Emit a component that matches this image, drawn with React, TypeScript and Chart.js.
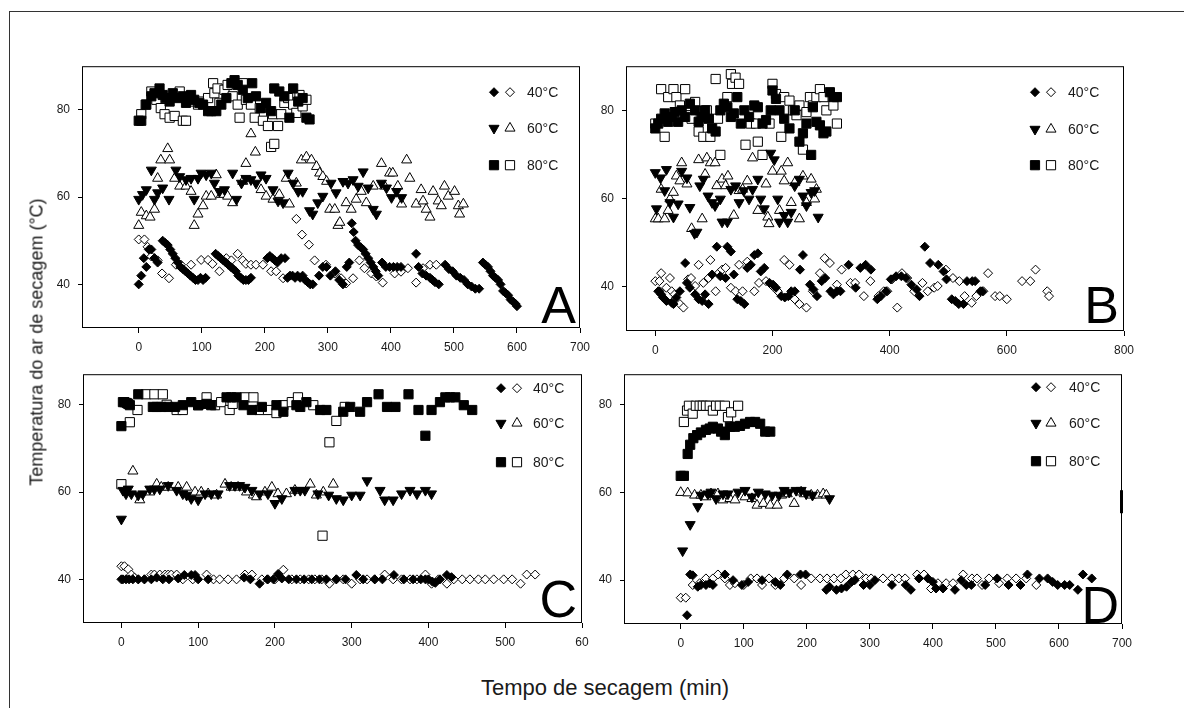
import React, { useEffect, useRef } from "react";
import { Chart, registerables } from "chart.js";

Chart.register(...registerables);

type Pts = [number, number][];

const FONT = "Arial, 'Liberation Sans', sans-serif";

// ---------------- Panel A ----------------
const a40Filled: Pts = [[0,40],[4,42],[8,46],[12,44],[16,48],[20,48],[25,46],[30,45],[38,50],[42,49.5],[46,49],[50,48],[54,47],[58,46],[62,45],[66,44],[70,43.5],[74,43],[78,42.5],[82,42],[86,41.5],[90,41],[94,41],[98,41.5],[102,41],[106,41.5],[122,47],[126,46.5],[130,46],[134,45.5],[138,45],[142,44.5],[146,44],[150,43.5],[154,43],[158,42],[162,41.5],[166,41],[170,41],[174,41],[178,41.5],[204,46],[208,46.5],[212,46],[216,45.5],[220,45],[226,46],[232,46],[236,41.5],[240,42],[244,42],[248,41.5],[252,42],[256,41.5],[260,42],[264,41],[268,40.5],[272,40],[276,40],[286,42],[292,44],[298,44],[304,42],[312,43],[318,41],[324,40],[330,44],[334,45],[338,54],[341,52],[344,50],[348,49],[352,48.5],[356,48],[360,47],[364,46],[368,45],[372,44],[376,43],[380,42],[386,45],[392,44],[398,44],[404,44],[410,44],[416,44],[440,47],[444,44],[450,42.5],[456,42],[462,41.5],[466,41],[470,40.5],[476,40],[486,44.5],[492,43.5],[498,43],[504,42],[510,41.5],[516,41],[522,40],[528,39.5],[534,39],[540,39],[546,45],[550,44.5],[554,44],[558,43],[562,42],[566,41.5],[570,41],[574,40],[578,38.5],[582,38],[586,37.5],[590,36.5],[594,36],[598,35.5],[600,35]];
const a40Open: Pts = [[0,50.3],[9,50.3],[14,48.6],[20,46.4],[25,46],[30,45.5],[37,42.5],[48,41.4],[59,44.5],[67,44.5],[83,44.5],[99,45.6],[110,45.6],[117,44.7],[128,43],[139,46],[147,45.5],[157,47],[165,45.5],[170,44.7],[178,44.5],[186,44.5],[197,44.5],[210,43],[218,43],[229,41.4],[250,55],[259,51.4],[270,49.1],[279,45.5],[297,44.5],[311,42.5],[321,41.4],[329,40.2],[340,41.4],[350,45.5],[358,43.7],[369,42.5],[377,41.8],[387,40.4],[406,42.5],[416,42.9],[427,43.7],[440,40.4],[451,43.7],[462,44.5],[472,44.5]];
const a60Filled: Pts = [[0,59.5],[6,60.6],[12,61.7],[20,66.2],[25,59.5],[30,61],[38,62.1],[48,59.5],[59,66.2],[65,64.7],[75,64],[83,64.3],[88,59.5],[94,64.3],[99,65.5],[107,65.1],[115,65.5],[120,63.2],[128,61.3],[136,61.7],[149,65.5],[155,59.5],[163,63.2],[170,64.3],[178,64],[186,63.2],[194,65.1],[202,64.3],[213,61.7],[221,59.1],[229,58.7],[237,65.5],[245,63.2],[253,61.3],[260,61.3],[271,56.9],[276,56.1],[284,58.7],[292,60.2],[305,63.2],[313,61],[324,63.6],[332,63.2],[340,64],[348,62.5],[356,65.8],[364,62.1],[372,57.2],[377,56.1],[385,63.2],[393,62.1],[401,59.9],[409,61.3],[417,59.9]];
const a60Open: Pts = [[0,53.5],[4,56.5],[12,55.7],[18,55.4],[25,57.2],[30,64.3],[35,68.5],[46,71.1],[49,68.5],[57,64.3],[65,62.5],[75,62.5],[83,61.3],[88,53.5],[94,56.1],[102,58],[107,60.2],[115,60.2],[123,65.1],[131,60.6],[141,60.2],[149,58.7],[165,63.6],[170,67.7],[178,74.5],[185,70.3],[194,61.7],[202,60.2],[213,59.5],[223,60.6],[234,64.3],[239,58.4],[250,63.2],[258,68.5],[266,69.2],[274,68.5],[282,67],[287,65.5],[292,64.7],[298,63.6],[303,57.2],[311,57.2],[316,53.5],[319,54.2],[329,58.7],[337,57.2],[345,59.5],[353,61.3],[361,58.7],[372,62.5],[385,67.7],[390,62.5],[398,65.5],[403,65.5],[411,62.5],[417,58.4],[425,68.5],[430,64.3],[440,58.4],[448,61.7],[451,59.1],[456,57.2],[462,55.4],[467,61.3],[475,59.1],[480,58],[485,62.5],[491,60.2],[501,61.3],[507,58],[509,56.1],[515,58.4]];
const a80Filled: Pts = [[0,77.5],[4,77.5],[12,81.2],[20,83.1],[25,83.8],[33,84.9],[38,83.4],[43,82.7],[49,81.9],[54,83.8],[62,82.7],[70,83.1],[75,81.6],[83,83.4],[88,82.3],[96,81.6],[102,81.2],[110,79.7],[115,79.7],[123,79.7],[131,81.2],[139,82.7],[147,86.1],[152,86.8],[157,85.7],[165,84.6],[173,82.7],[180,86.1],[186,83.1],[194,80.4],[202,81.6],[210,79.7],[215,84.9],[223,84.2],[231,83.1],[239,78.2],[245,84.9],[253,81.9],[260,82.7],[266,78.2],[271,77.8]];
const a80Open: Pts = [[4,79],[11,81.2],[20,84.2],[28,82.3],[35,80.4],[41,79],[49,78.2],[57,78.6],[65,84.2],[70,77.5],[75,77.5],[86,81.9],[94,81.2],[102,81.9],[110,82.7],[118,86.1],[120,83.8],[125,84.9],[128,81.6],[136,84.6],[141,85.7],[149,83.1],[157,81.2],[160,78.2],[165,86.1],[170,82.3],[178,81.2],[184,78.2],[192,80.4],[197,77.5],[205,76.3],[210,71.5],[215,72.2],[213,79],[221,76.3],[226,79],[231,81.6],[237,82.7],[245,81.2],[250,79.3],[255,83.4],[260,80.8],[266,82.3]];

// ---------------- Panel B ----------------
const b40Filled: Pts = [[5,39],[7,39],[10,38.3],[13,37.6],[19,36.8],[28,36.4],[31,36.1],[36,37.6],[42,39],[51,45.4],[54,40.9],[59,39.8],[68,38.3],[74,37.2],[80,36.8],[85,38.3],[91,36.1],[97,42.8],[105,49.1],[111,42.4],[120,42],[123,49.1],[129,48],[134,42.8],[140,37.2],[146,36.8],[152,36.1],[157,44.3],[163,45],[169,47.2],[175,47.6],[180,43.5],[186,44.3],[195,40.9],[201,40.5],[206,39.8],[215,37.9],[221,37.6],[227,37.9],[232,39],[238,39],[247,43.9],[252,47.2],[264,40.5],[270,39.4],[276,37.9],[284,41.3],[290,42],[299,39],[304,38.3],[310,39],[316,39],[330,45],[342,39.8],[350,44.3],[359,45],[368,43.9],[379,37.2],[385,37.9],[394,39],[402,41.7],[411,42.4],[420,42.4],[428,42],[437,40.5],[446,39.4],[451,37.9],[460,49.1],[469,45.4],[483,45],[492,43.5],[497,41.7],[506,37.2],[512,36.8],[518,36.1],[526,36.1],[532,41.3],[541,41.3],[546,41.3],[555,39],[558,39]];
const b40Open: Pts = [[0,41.3],[7,41.3],[10,43.1],[19,39.8],[25,42],[28,39],[33,38.3],[42,36.1],[48,35.3],[56,41.7],[61,42],[68,40.2],[74,45],[82,40.9],[91,42],[94,46.1],[103,39],[108,43.1],[114,43.9],[120,44.3],[129,39.8],[137,39],[143,45],[149,39],[157,45.7],[169,39],[177,40.9],[189,41.3],[200,40.2],[209,39],[220,46.1],[229,45],[238,37.2],[246,36.1],[258,35.3],[269,39],[281,43.1],[289,46.5],[298,45.4],[310,40.5],[318,43.9],[333,40.9],[341,40.9],[356,37.9],[367,41.3],[381,37.9],[390,39],[396,39],[404,41.7],[413,35.3],[421,43.1],[430,42],[442,39],[456,40.9],[465,39],[476,39.8],[482,40.2],[496,43.9],[508,42],[519,41.3],[528,37.9],[540,36.4],[548,37.9],[560,39],[568,43.1],[580,37.9],[588,37.9],[600,37.2],[626,41.3],[640,41.3],[649,43.9],[669,39],[672,37.9]];
const b60Filled: Pts = [[0,65.9],[9,64.7],[19,66.6],[2,57.7],[16,61.8],[25,59.1],[31,55.8],[39,58.8],[45,66.2],[54,64.7],[59,58],[67,52.1],[71,52.4],[76,62.9],[82,64.4],[90,60.6],[97,59.1],[102,58.4],[111,59.9],[114,54.7],[123,54.7],[129,62.1],[137,62.9],[143,59.1],[151,61.8],[160,59.9],[166,62.1],[175,64.4],[180,59.9],[186,57.7],[197,70.3],[203,68.8],[209,59.9],[212,54.7],[220,56.2],[226,54.7],[232,56.9],[238,62.9],[246,64.4],[252,60.6],[258,58.4],[266,61.4],[272,61.8],[278,55.8]];
const b60Open: Pts = [[0,55.4],[5,55.4],[10,62.1],[16,55.4],[22,57.3],[25,59.9],[31,61.4],[36,65.1],[42,64],[45,68.1],[54,63.3],[62,53.2],[74,68.8],[80,55.4],[85,65.5],[88,69.2],[94,68.1],[102,68.1],[105,62.9],[114,64.4],[120,62.9],[124,65.1],[134,56.2],[143,61.8],[149,62.1],[157,64],[166,69.2],[175,57.3],[189,63.3],[192,55.8],[194,54.3],[200,66.2],[212,57.3],[215,66.2],[220,64],[226,68.1],[232,59.1],[238,63.6],[246,55.4],[252,65.1],[258,59.1],[266,64.4],[272,59.9],[275,62.1]];
const b80Filled: Pts = [[0,75.9],[5,77],[10,78.1],[16,79.3],[22,77.4],[28,78.5],[33,79.6],[39,77.4],[45,80],[51,78.5],[59,81.5],[68,80],[74,77.4],[80,78.5],[85,80],[91,78.1],[97,75.9],[103,75.2],[111,80],[117,81.5],[123,80.7],[129,78.5],[134,79.3],[140,83],[146,77],[152,80],[160,78.5],[169,81.1],[175,80.7],[183,77],[189,77.8],[197,80],[200,84.5],[206,82.6],[212,80],[220,78.1],[229,75.9],[238,80],[246,72.9],[252,74.8],[258,77],[266,69.9],[269,80.7],[275,77.4],[281,76.6],[287,74.8],[292,75.2],[298,84.1],[304,83],[310,83]];
const b80Open: Pts = [[0,77],[10,84.8],[16,74],[22,83],[31,84.8],[36,83],[42,81.1],[51,84.8],[56,78.9],[62,78.1],[68,81.9],[74,75.2],[82,74],[88,80],[94,74],[103,87.1],[107,78.1],[111,69.9],[123,83],[129,88.2],[131,86],[137,87.4],[143,86],[154,72.2],[163,77],[172,77],[175,72.9],[183,69.9],[195,77],[200,86],[206,83.7],[215,74],[220,83],[229,82.2],[235,80],[241,78.9],[246,81.1],[252,71.1],[258,79.6],[264,83],[269,81.1],[275,83],[281,84.8],[287,83],[292,80],[304,81.1],[310,77]];

// ---------------- Panel C ----------------
const c40Filled: Pts = [[0,40],[2,40],[6,40],[10,40],[15,40],[22,40],[30,40],[39,40],[46,40.4],[54,40],[62,40],[74,40.2],[82,41],[91,41],[96,41],[100,40],[113,40],[160,40.4],[168,40],[180,39],[190,40],[198,40],[204,41.2],[209,40.2],[218,40],[228,40],[238,40],[248,40],[258,40],[267,40],[280,40],[292,40],[306,41],[315,40],[330,40],[340,40],[355,41],[368,40],[380,40],[390,40],[396,40],[400,40],[405,39.5],[409,39.2],[415,40],[424,41],[430,40.5]];
const c40Open: Pts = [[0,43],[4,43],[9,42.3],[13,41.1],[17,40.4],[22,40],[30,40],[39,41.1],[43,41.1],[50,41.1],[57,41.1],[61,41.1],[65,41.1],[72,41.1],[80,40],[93,40],[111,41.1],[120,40],[128,40],[139,40],[150,40],[161,41.1],[170,41.1],[183,40],[191,40],[200,40],[211,42.2],[222,40],[233,40],[244,40],[252,40],[261,40],[271,39],[280,40],[289,40],[300,39],[311,40],[320,40],[330,40],[343,41.1],[354,40],[365,40],[376,40],[385,40],[396,41.1],[404,39],[413,40],[424,39],[433,40],[444,40],[454,40],[465,40],[474,40],[485,40],[498,40],[509,40],[520,39],[528,41.1],[539,41.1]];
const c60Filled: Pts = [[0,53.8],[2,60.4],[6,59.6],[9,60.7],[13,59.6],[22,59.3],[28,59.6],[37,60.7],[43,60.7],[50,60.7],[61,61.5],[72,60.4],[80,59.6],[85,59.3],[91,58.5],[100,58.2],[109,59.6],[117,59.6],[126,59.6],[141,61.5],[148,61.5],[154,61.5],[161,61.1],[170,60.4],[180,59.6],[191,59.6],[200,57.4],[209,58.5],[226,60.4],[233,60.4],[239,60.4],[256,59.6],[270,59.3],[280,58.5],[289,58.2],[300,59.3],[311,59.3],[320,62.6],[337,60.4],[343,58.2],[354,58.2],[365,59.6],[376,60.4],[385,59.6],[396,60.4],[404,59.6]];
const c60Open: Pts = [[15,64.8],[24,58.2],[37,60],[46,61.8],[52,61.1],[61,61.1],[74,61.1],[85,61.1],[96,60],[104,60],[113,59.6],[124,59.3],[135,61.8],[143,61.1],[152,61.1],[163,60],[172,59.3],[176,58.9],[187,60],[196,61.1],[204,59.6],[215,59.6],[226,60.4],[246,61.8],[254,59.3],[263,60],[276,61.8]];
const c80Filled: Pts = [[0,75.1],[2,80.6],[4,80.6],[7,80.4],[9,80.2],[11,79.9],[22,82.4],[41,79.5],[46,79.5],[52,79.5],[61,79.5],[70,79.5],[80,79.9],[91,80.6],[100,79.9],[111,80.2],[117,79.9],[137,81.7],[143,81.7],[150,81.7],[159,79.9],[170,78.8],[183,79.5],[202,79.9],[211,78.4],[228,79.9],[233,79.5],[241,80.6],[259,78.8],[267,78.8],[289,78.4],[298,79.5],[311,78.4],[320,80.6],[335,82.4],[346,79.5],[357,79.5],[374,82.4],[387,78.8],[396,72.9],[404,78.8],[415,80.6],[422,81.7],[428,81.7],[435,81.7],[446,79.9],[457,78.8]];
const c80Open: Pts = [[0,61.8],[11,76],[21,78.8],[32,82.4],[43,82.4],[54,82.4],[59,80],[72,78.8],[80,78.8],[100,79.9],[111,81.7],[122,79.9],[130,80.6],[141,78.8],[145,80.2],[161,81.7],[172,81.7],[180,78.8],[191,78.8],[202,78.1],[211,79.9],[222,80.6],[230,81.7],[250,79.9],[262,50],[271,71.4],[280,76.3],[291,79.5]];

// ---------------- Panel D ----------------
const d40Filled: Pts = [[10,32],[15,41.3],[19,41.1],[27,38.5],[32,38.9],[40,38.9],[46,39.3],[51,38.9],[70,41.3],[83,40],[97,38.9],[107,39.6],[129,40],[150,39.6],[158,38.9],[169,41.3],[190,41.3],[198,41.3],[231,37.8],[236,38.5],[247,37.8],[255,38.1],[263,38.5],[271,39.6],[276,40],[290,38.9],[300,38.9],[308,40],[335,38.9],[357,38.9],[365,37.8],[378,40.4],[392,40.4],[400,39.6],[405,38.1],[416,38.1],[435,37.8],[445,40],[453,38.9],[461,38.9],[483,38.9],[502,40.4],[520,38.9],[539,38.9],[550,41.3],[569,40.4],[582,40.4],[590,39.6],[598,38.9],[609,38.9],[617,38.9],[630,37.8],[638,41.3],[652,40.4]];
const d40Open: Pts = [[0,36],[8,36],[19,38.9],[30,39.3],[40,40.4],[51,40.4],[59,41.3],[70,40.4],[78,38.9],[86,39.3],[100,38.9],[111,40.4],[121,40.4],[129,38.9],[140,40.4],[150,38.9],[164,40.4],[180,40.4],[191,38.9],[207,40.4],[221,40.4],[232,40.4],[243,40.4],[254,40.4],[262,41.3],[273,41.3],[283,41.3],[294,40.4],[302,40.4],[321,40.4],[335,40.4],[346,40.4],[356,40.4],[375,41.3],[386,41.3],[397,38.1],[408,39.3],[421,39.3],[432,39.3],[448,41.3],[462,40.4],[470,40.4],[478,38.9],[489,40.4],[505,39.3],[518,40.4],[532,40.4],[548,40.4],[564,38.9]];
const d60Filled: Pts = [[3,46.7],[15,52.7],[27,56.8],[32,59.4],[43,59.7],[48,60.1],[56,58.6],[67,59.7],[75,59.7],[91,60.1],[102,60.5],[113,59],[123,60.1],[134,59.7],[145,59.4],[156,59.4],[164,60.5],[172,60.1],[183,60.5],[191,60.5],[199,59.7],[209,59.4],[236,58.6]];
const d60Open: Pts = [[0,60],[11,59.9],[22,59.4],[32,59.4],[40,59],[48,59.7],[59,59.7],[67,58.3],[78,58.6],[86,58.3],[102,59],[113,58.6],[121,57.1],[131,57.5],[142,57.1],[153,57.1],[160,59.4],[169,59.7],[180,57.5],[191,60.1],[196,59.7],[207,59.4],[217,59.4],[226,59.7],[231,59.4]];
const d80Filled: Pts = [[0,63.8],[5,63.8],[11,68.8],[15,70.9],[20,72.4],[26,73.1],[32,73.7],[40,74.3],[46,74.6],[51,75],[59,74.6],[64,73.9],[70,73.1],[78,75],[86,75],[94,75.2],[102,75.7],[110,76.1],[118,76.1],[126,75.7],[134,73.9],[142,73.9]];
const d80Open: Pts = [[5,76.1],[10,78.7],[13,79.8],[19,78],[24,79.8],[30,79.8],[35,79.8],[40,79.8],[46,79.8],[51,78.7],[56,79.8],[62,79.8],[70,79.8],[75,77.2],[80,78.3],[91,79.8]];

// ---------------- Axes ----------------
const yTicks = [40, 60, 80];
const xTicksA = [0, 100, 200, 300, 400, 500, 600, 700];
const xLabelsA = ["0", "100", "200", "300", "400", "500", "600", "700"];
const xTicksB = [0, 200, 400, 600, 800];
const xLabelsB = ["0", "200", "400", "600", "800"];
const xTicksC = [0, 100, 200, 300, 400, 500, 600];
const xLabelsC = ["0", "100", "200", "300", "400", "500", "60"];
const xTicksD = [0, 100, 200, 300, 400, 500, 600, 700];
const xLabelsD = ["0", "100", "200", "300", "400", "500", "600", "700"];
const legendLabels = ["40°C", "60°C", "80°C"];

// ---------------- Styles ----------------
const seriesStyles = [
  { style: "rectRot", r: 4.5, rot: 0, fill: "#000" },
  { style: "rectRot", r: 4.5, rot: 0, fill: "#fff" },
  { style: "triangle", r: 5.8, rot: 180, fill: "#000" },
  { style: "triangle", r: 5.8, rot: 0, fill: "#fff" },
  { style: "rect", r: 6.5, rot: 0, fill: "#000" },
  { style: "rect", r: 6.5, rot: 0, fill: "#fff" },
];

const AX_W = 60;
const AX_H = 40;
const PAD_T = 10;
const PAD_R = 20;

type PanelCfg = {
  id: string;
  box: { left: number; top: number; right: number; bottom: number };
  xMin: number; xMax: number; yMin: number; yMax: number;
  xTicks: number[]; xLabels: string[];
  series: Pts[];
  legend: { fx: number; ox: number; tx: number; rows: number[] };
  letter: { text: string; dx: number; dy: number };
  edgeMark?: { y0: number; y1: number };
};

const panels: PanelCfg[] = [
  {
    id: "A", box: { left: 82, top: 61, right: 580, bottom: 328 },
    xMin: -90, xMax: 700, yMin: 30, yMax: 90, xTicks: xTicksA, xLabels: xLabelsA,
    series: [a40Filled, a40Open, a60Filled, a60Open, a80Filled, a80Open],
    legend: { fx: -86, ox: -70, tx: -53, rows: [26, 62, 99] },
    letter: { text: "A", dx: -4, dy: -5 },
  },
  {
    id: "B", box: { left: 626, top: 61, right: 1124, bottom: 331 },
    xMin: -50, xMax: 800, yMin: 30, yMax: 90, xTicks: xTicksB, xLabels: xLabelsB,
    series: [b40Filled, b40Open, b60Filled, b60Open, b80Filled, b80Open],
    legend: { fx: -89, ox: -73, tx: -56, rows: [26, 63, 99] },
    letter: { text: "B", dx: -5, dy: -8 },
  },
  {
    id: "C", box: { left: 83, top: 369, right: 582, bottom: 623 },
    xMin: -50, xMax: 600, yMin: 30, yMax: 87, xTicks: xTicksC, xLabels: xLabelsC,
    series: [c40Filled, c40Open, c60Filled, c60Open, c80Filled, c80Open],
    legend: { fx: -81, ox: -65, tx: -49, rows: [14, 49, 88] },
    letter: { text: "C", dx: -5, dy: -6 },
  },
  {
    id: "D", box: { left: 624, top: 369, right: 1122, bottom: 624 },
    xMin: -90, xMax: 700, yMin: 30, yMax: 87, xTicks: xTicksD, xLabels: xLabelsD,
    series: [d40Filled, d40Open, d60Filled, d60Open, d80Filled, d80Open],
    legend: { fx: -86, ox: -71, tx: -53, rows: [13, 49, 87] },
    letter: { text: "D", dx: -3, dy: -1 },
    edgeMark: { y0: 116, y1: 139 },
  },
];

function drawMarker(ctx: CanvasRenderingContext2D, st: any, x: number, y: number) {
  const r = st.r;
  ctx.beginPath();
  if (st.style === "rectRot") {
    ctx.moveTo(x, y - r); ctx.lineTo(x + r, y); ctx.lineTo(x, y + r); ctx.lineTo(x - r, y);
  } else if (st.style === "triangle") {
    let rad = (st.rot * Math.PI) / 180;
    for (let k = 0; k < 3; k++) {
      const px = x + Math.sin(rad) * r;
      const py = y - Math.cos(rad) * r;
      if (k === 0) ctx.moveTo(px, py); else ctx.lineTo(px, py);
      rad += (2 * Math.PI) / 3;
    }
  } else {
    const s = Math.SQRT1_2 * r;
    ctx.rect(x - s, y - s, 2 * s, 2 * s);
  }
  ctx.closePath();
  ctx.fillStyle = st.fill;
  ctx.fill();
  ctx.strokeStyle = "#000";
  ctx.lineWidth = 1;
  ctx.stroke();
}

function makeFramePlugin(cfg: PanelCfg) {
  return {
    id: "frame" + cfg.id,
    afterDraw(chart: any) {
      const ctx: CanvasRenderingContext2D = chart.ctx;
      const a = chart.chartArea;
      ctx.save();
      ctx.strokeStyle = "#000";
      ctx.lineWidth = 1;
      ctx.strokeRect(a.left + 0.5, a.top + 0.5, a.right - a.left - 1, a.bottom - a.top - 1);
      if (cfg.edgeMark) {
        ctx.fillStyle = "#000";
        ctx.fillRect(a.right - 2, a.top + cfg.edgeMark.y0, 3, cfg.edgeMark.y1 - cfg.edgeMark.y0);
      }
      const L = cfg.legend;
      legendLabels.forEach((lab, i) => {
        const yy = a.top + L.rows[i];
        drawMarker(ctx, seriesStyles[i * 2], a.right + L.fx, yy);
        drawMarker(ctx, seriesStyles[i * 2 + 1], a.right + L.ox, yy);
        ctx.fillStyle = "#1a1a1a";
        ctx.font = `14px ${FONT}`;
        ctx.textAlign = "left";
        ctx.textBaseline = "middle";
        ctx.fillText(lab, a.right + L.tx, yy + 1);
      });
      ctx.fillStyle = "#000";
      ctx.font = `52px ${FONT}`;
      ctx.textAlign = "right";
      ctx.textBaseline = "alphabetic";
      ctx.fillText(cfg.letter.text, a.right + cfg.letter.dx, a.bottom + cfg.letter.dy);
      ctx.restore();
    },
  };
}

function Panel({ cfg }: { cfg: PanelCfg }) {
  const ref = useRef<HTMLCanvasElement>(null);
  const W = cfg.box.right - cfg.box.left + AX_W + PAD_R;
  const H = cfg.box.bottom - cfg.box.top + PAD_T + AX_H;
  useEffect(() => {
    const canvas = ref.current;
    if (!canvas) return;
    const tickFont = { family: FONT, size: 12 };
    const chart = new Chart(canvas, {
      type: "scatter",
      data: {
        datasets: cfg.series.map((pts, i) => ({
          label: legendLabels[Math.floor(i / 2)],
          data: pts.map(([x, y]) => ({ x, y })),
          pointStyle: seriesStyles[i].style as any,
          pointRadius: seriesStyles[i].r,
          pointRotation: seriesStyles[i].rot,
          backgroundColor: seriesStyles[i].fill,
          borderColor: "#000",
          borderWidth: 1,
          showLine: false,
          clip: false as any,
        })),
      },
      options: {
        responsive: false,
        animation: false,
        events: [],
        layout: { padding: { left: 0, top: PAD_T, right: PAD_R, bottom: 0 } },
        plugins: { legend: { display: false }, tooltip: { enabled: false } },
        scales: {
          x: {
            type: "linear",
            min: cfg.xMin,
            max: cfg.xMax,
            afterFit: (s: any) => { s.height = AX_H; },
            afterBuildTicks: (s: any) => { s.ticks = cfg.xTicks.map((v) => ({ value: v })); },
            ticks: {
              callback: (v: any) => {
                const idx = cfg.xTicks.indexOf(Number(v));
                return idx >= 0 ? cfg.xLabels[idx] : "";
              },
              font: tickFont,
              color: "#1a1a1a",
              padding: 7,
              maxRotation: 0,
              autoSkip: false,
            },
            grid: { display: true, drawOnChartArea: false, drawTicks: true, tickLength: 5, color: "#000" },
            border: { display: false },
          },
          y: {
            type: "linear",
            min: cfg.yMin,
            max: cfg.yMax,
            afterFit: (s: any) => { s.width = AX_W; },
            afterBuildTicks: (s: any) => { s.ticks = yTicks.map((v) => ({ value: v })); },
            ticks: {
              callback: (v: any) => String(v),
              font: tickFont,
              color: "#1a1a1a",
              padding: 8,
              autoSkip: false,
            },
            grid: { display: true, drawOnChartArea: false, drawTicks: true, tickLength: 4, color: "#000" },
            border: { display: false },
          },
        },
      } as any,
      plugins: [makeFramePlugin(cfg)],
    });
    return () => chart.destroy();
  }, [cfg]);
  return (
    <canvas
      ref={ref}
      width={W}
      height={H}
      style={{ position: "absolute", left: cfg.box.left - AX_W, top: cfg.box.top - PAD_T, width: W, height: H }}
    />
  );
}

export default function App() {
  return (
    <div
      style={{
        position: "fixed",
        left: 0,
        top: 0,
        width: 1184,
        height: 708,
        overflow: "hidden",
        background: "#fff",
        fontFamily: FONT,
        color: "#1a1a1a",
      }}
    >
      <div
        style={{
          position: "absolute",
          left: 9,
          top: 11,
          width: 1300,
          height: 800,
          borderTop: "1px solid #333",
          borderLeft: "1px solid #333",
        }}
      />
      {panels.map((p) => (
        <Panel key={p.id} cfg={p} />
      ))}
      <div
        style={{
          position: "absolute",
          left: 37,
          top: 342,
          transform: "translate(-50%, -50%) rotate(-90deg)",
          whiteSpace: "nowrap",
          fontSize: 18,
        }}
      >
        Temperatura do ar de secagem (°C)
      </div>
      <div
        style={{
          position: "absolute",
          left: 605,
          top: 688,
          transform: "translate(-50%, -50%)",
          whiteSpace: "nowrap",
          fontSize: 22,
        }}
      >
        Tempo de secagem (min)
      </div>
    </div>
  );
}
